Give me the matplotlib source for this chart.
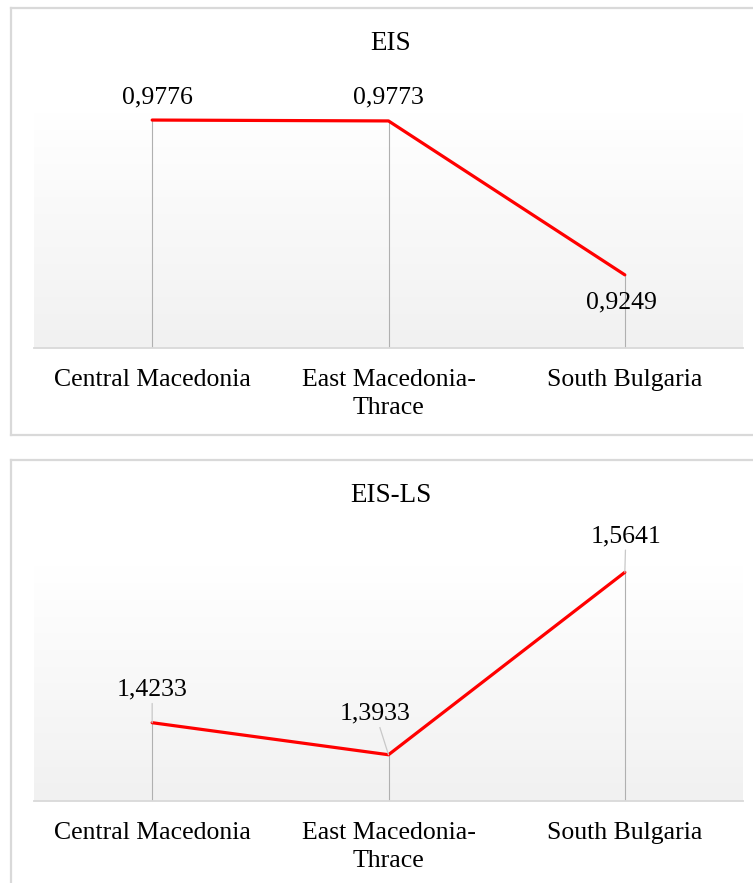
import numpy as np
import matplotlib
matplotlib.use("Agg")
import matplotlib.pyplot as plt
from matplotlib.lines import Line2D

plt.rcParams['font.family'] = ['Liberation Serif', 'DejaVu Serif']

# ---- data ----
categories = ["Central Macedonia", "East Macedonia-\nThrace", "South Bulgaria"]
eis_values = [0.9776, 0.9773, 0.9249]
eis_ls_values = [1.4233, 1.3933, 1.5641]
eis_title = "EIS"
eis_ls_title = "EIS-LS"
eis_ylim = (0.90, 0.98)
eis_ls_ylim = (1.35, 1.57)

W, H = 753, 883
fig = plt.figure(figsize=(W / 100, H / 100), dpi=100)
fig.patch.set_facecolor("white")

FS = 18.5
TFS = 19.5
BORDER = "#d9d9d9"


def fx(px):
    return px / W


def fy(py):
    return 1 - py / H


# panel frames
for top, bottom in [(8, 435), (460, 900)]:
    for xs, ys in [([11, 760], [top, top]), ([11, 11], [top, bottom]),
                   ([11, 760], [bottom, bottom])]:
        fig.add_artist(Line2D([fx(x) for x in xs], [fy(y) for y in ys],
                              color=BORDER, lw=1.6, transform=fig.transFigure))


def draw_panel(top_px, bottom_px, title, title_y, values, ylim,
               label_offsets, leaders):
    ax = fig.add_axes([fx(34), fy(bottom_px), fx(743) - fx(34),
                       (bottom_px - top_px) / H])
    x = np.arange(len(values))
    ax.set_xlim(-0.5, len(values) - 0.5)
    ax.set_ylim(*ylim)

    # vertical gradient fill of the plot area
    grad = np.linspace(0.945, 1.0, 256).reshape(-1, 1)
    rgb = np.dstack([grad, grad, grad])
    ax.imshow(rgb, extent=[0, 1, 0, 1], transform=ax.transAxes,
              aspect="auto", origin="lower", zorder=0, interpolation="bicubic")

    # drop lines
    ax.vlines(x, ylim[0], values, color="#b0b0b0", lw=0.8, zorder=2)
    ax.plot(x, values, color="#ff0000", lw=2.3, zorder=3,
            solid_capstyle="round", solid_joinstyle="round")

    for xi, v, (dx, dy), lead in zip(x, values, label_offsets, leaders):
        kw = {}
        if lead:
            kw["arrowprops"] = dict(arrowstyle="-", color="#c8c8c8", lw=0.9,
                                    shrinkA=0, shrinkB=0)
        ax.annotate(f"{v:.4f}".replace(".", ","), xy=(xi, v),
                    xytext=(dx * 0.72, dy * 0.72), textcoords="offset points",
                    ha="center", va="center", fontsize=FS, color="#000000",
                    zorder=4, annotation_clip=False, **kw)

    for s in ["top", "right", "left"]:
        ax.spines[s].set_visible(False)
    ax.spines["bottom"].set_color(BORDER)
    ax.spines["bottom"].set_linewidth(1.3)
    ax.set_yticks([])
    ax.set_xticks(x)
    ax.set_xticklabels(categories, fontsize=FS, linespacing=1.35)
    ax.tick_params(axis="x", length=0, pad=15)

    fig.text(fx(391), fy(title_y), title, ha="center", va="center",
             fontsize=TFS)
    return ax


draw_panel(113, 348, eis_title, 44, eis_values, eis_ylim,
           [(5, 23), (0, 23), (-3, -28)], [False, False, False])
draw_panel(566, 801, eis_ls_title, 495, eis_ls_values, eis_ls_ylim,
           [(0, 33), (-13, 41), (1, 36)], [True, True, True])

fig.savefig("out.png", dpi=100, facecolor="white")
